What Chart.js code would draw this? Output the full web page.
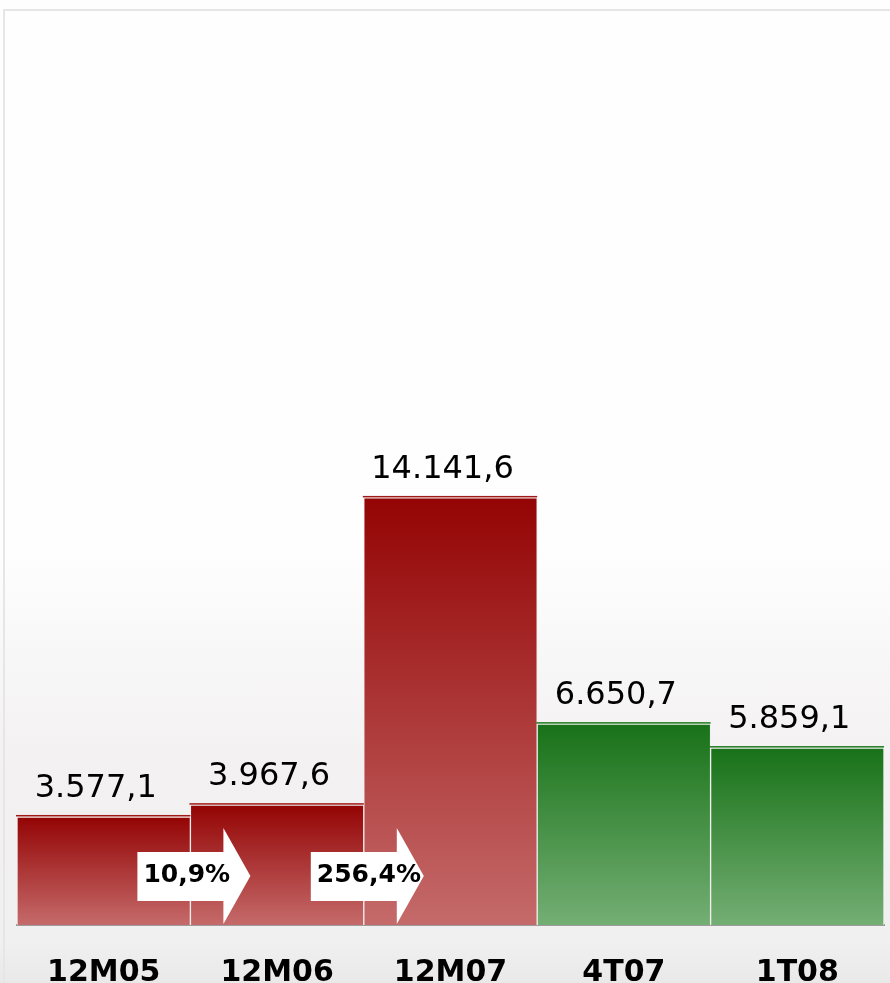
<!DOCTYPE html>
<html>
<head>
<meta charset="utf-8">
<script src="https://cdn.jsdelivr.net/npm/chart.js@4/dist/chart.umd.min.js"></script>
<style>
  html, body { margin: 0; padding: 0; }
  body {
    width: 890px; height: 983px; overflow: hidden; position: relative;
    background: linear-gradient(to bottom, #fefefe 0px, #fefefe 550px, #f3f1f2 760px, #f1f0f0 940px, #e9e9e9 983px);
  }
  #frame {
    position: absolute; left: 3px; top: 9px; width: 900px; height: 1000px;
    border-left: 2px solid #e6e6e6; border-top: 2px solid #e6e6e6;
  }
  #wrap { position: absolute; left: 0; top: 0; width: 890px; height: 983px; }
</style>
</head>
<body>
<div id="frame"></div>
<div id="wrap"><canvas id="growthChart"></canvas></div>
<script>
// periods and amounts
const periods = ['12M05', '12M06', '12M07', '4T07', '1T08'];
const amounts = [3577.1, 3967.6, 14141.6, 6650.7, 5859.1];
const barKind = ['red', 'red', 'red', 'green', 'green'];
// growth arrows between consecutive bars (from index)
const growthFrom = [0, 1];
const growthText = ['10,9%', '256,4%'];

const yMax = 30000;

const shades = {
  red:   { top: '#940404', bottom: '#c56a6a', line: '#a01818' },
  green: { top: '#187218', bottom: '#74ae74', line: '#1d7a1d' }
};

function fmt(v) {
  const parts = v.toFixed(1).split('.');
  const intPart = parts[0].replace(/\B(?=(\d{3})+(?!\d))/g, '.');
  return intPart + ',' + parts[1];
}

function barFill(context) {
  const chart = context.chart;
  const area = chart.chartArea;
  if (!area) return shades[barKind[context.dataIndex]].top;
  const y = chart.scales.y;
  const topPx = y.getPixelForValue(amounts[context.dataIndex]);
  const basePx = y.getPixelForValue(0);
  const s = shades[barKind[context.dataIndex]];
  const g = chart.ctx.createLinearGradient(0, topPx, 0, basePx);
  g.addColorStop(0, s.top);
  g.addColorStop(1, s.bottom);
  return g;
}

// coloured edge above each bar + value labels
const barDecor = {
  id: 'barDecor',
  afterDatasetsDraw(chart) {
    const ctx = chart.ctx;
    const meta = chart.getDatasetMeta(0);
    ctx.save();
    meta.data.forEach((bar, i) => {
      const half = bar.width / 2;
      ctx.fillStyle = shades[barKind[i]].line;
      ctx.fillRect(bar.x - half - 1, bar.y - 2, bar.width + 1, 1.5);
      ctx.fillStyle = '#000';
      ctx.font = '32px "DejaVu Sans", Verdana, sans-serif';
      ctx.textAlign = 'center';
      ctx.textBaseline = 'alphabetic';
      ctx.fillText(fmt(amounts[i]), bar.x - 8, bar.y - 20);
    });
    ctx.restore();
  }
};

// white arrows with growth percentages
const growthArrows = {
  id: 'growthArrows',
  afterDatasetsDraw(chart) {
    const ctx = chart.ctx;
    const meta = chart.getDatasetMeta(0);
    const base = chart.scales.y.getPixelForValue(0);
    ctx.save();
    growthFrom.forEach((from, k) => {
      const a = meta.data[from], b = meta.data[from + 1];
      const edge = (a.x + a.width / 2 + b.x - b.width / 2) / 2;
      const x0 = edge - 53, x1 = edge + 33, xt = edge + 60;
      ctx.fillStyle = '#ffffff';
      ctx.beginPath();
      ctx.moveTo(x0, base - 73);
      ctx.lineTo(x1, base - 73);
      ctx.lineTo(x1, base - 97);
      ctx.lineTo(xt, base - 49);
      ctx.lineTo(x1, base - 1);
      ctx.lineTo(x1, base - 24);
      ctx.lineTo(x0, base - 24);
      ctx.closePath();
      ctx.fill();
      ctx.fillStyle = '#000';
      ctx.font = 'bold 25px "DejaVu Sans", Verdana, sans-serif';
      ctx.textAlign = 'left';
      ctx.textBaseline = 'middle';
      ctx.fillText(growthText[k], x0 + 6, base - 50);
    });
    ctx.restore();
  }
};

new Chart(document.getElementById('growthChart'), {
  type: 'bar',
  data: {
    labels: periods,
    datasets: [{
      data: amounts,
      backgroundColor: barFill,
      borderColor: '#f2eeee',
      borderWidth: { top: 1, left: 1, right: 1, bottom: 0 },
      borderSkipped: false,
      categoryPercentage: 1,
      barPercentage: 1
    }]
  },
  options: {
    responsive: true,
    maintainAspectRatio: false,
    animation: false,
    layout: { padding: { left: 17, right: 6, top: 19, bottom: 0 } },
    plugins: {
      legend: { display: false },
      title: { display: false },
      tooltip: { enabled: false }
    },
    scales: {
      x: {
        grid: { display: false, drawTicks: false },
        border: { display: true, color: '#9c9c9c', width: 2 },
        ticks: {
          color: '#000',
          padding: 30,
          font: { family: '"DejaVu Sans", Verdana, sans-serif', size: 30, weight: 'bold' }
        },
        afterFit(scale) { scale.height = 58; }
      },
      y: {
        display: false,
        min: 0,
        max: yMax
      }
    }
  },
  plugins: [barDecor, growthArrows]
});
</script>
</body>
</html>
